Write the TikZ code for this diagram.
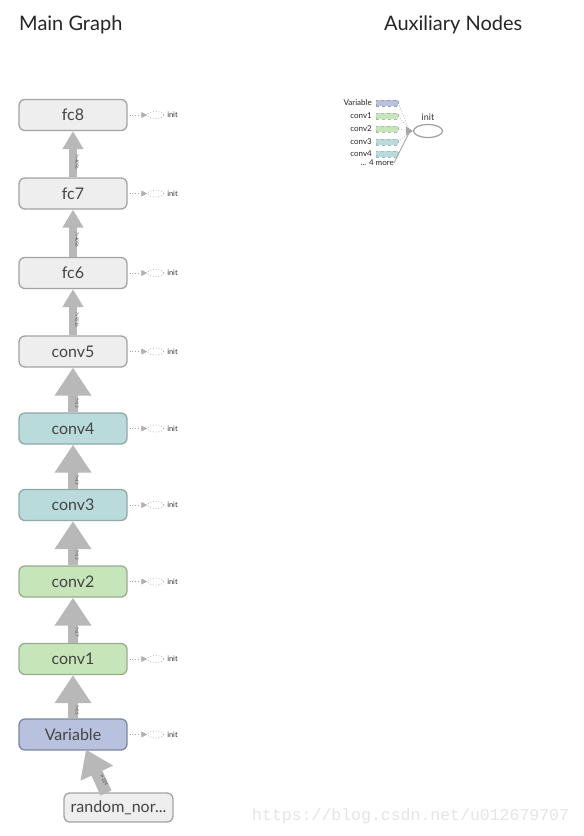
\documentclass[tikz,border=0pt]{standalone}
\usepackage{fontspec}
\setmainfont{Lato}
\newfontfamily\wmfont{Liberation Mono}
\usetikzlibrary{arrows.meta,shapes.geometric,calc}
\definecolor{nodegray}{HTML}{EEEEEE}
\definecolor{bordgray}{HTML}{A3A3A3}
\definecolor{tealfill}{HTML}{BADBDB}
\definecolor{tealbord}{HTML}{8FA8A8}
\definecolor{greenfill}{HTML}{C6E5B9}
\definecolor{greenbord}{HTML}{98AD90}
\definecolor{bluefill}{HTML}{B8C2DF}
\definecolor{bluebord}{HTML}{7E879E}
\definecolor{edgegray}{HTML}{B8B8B8}
\definecolor{txtgray}{HTML}{444444}
\begin{document}
\begin{tikzpicture}[x=1pt,y=-1pt,
  opbox/.style={draw, rounded corners=6pt, minimum width=108pt, minimum height=31pt,
    line width=1.3pt, inner sep=0pt, font=\fontsize{16}{18}\selectfont, text=txtgray},
  grayop/.style={opbox, fill=nodegray, draw=bordgray},
  tealop/.style={opbox, fill=tealfill, draw=tealbord},
  greenop/.style={opbox, fill=greenfill, draw=greenbord},
  blueop/.style={opbox, fill=bluefill, draw=bluebord},
  thinarrow/.style={draw=edgegray, line width=8pt, -{Triangle[width=20pt,length=18pt]}},
  fatarrow/.style={draw=edgegray, line width=10pt, -{Triangle[width=35pt,length=28pt]}},
  elbl/.style={font=\fontsize{4.5}{5}\selectfont, text=gray!60!black, rotate=-90, inner sep=0pt},
  initline/.style={draw=gray!70, dotted, line width=0.8pt},
  initell/.style={ellipse, draw=gray!60, dotted, line width=0.8pt, minimum width=16pt, minimum height=7pt, inner sep=0pt},
  inittxt/.style={font=\fontsize{7.5}{8}\selectfont, text=black!80, inner sep=0pt, anchor=west},
  title/.style={font=\fontsize{20}{22}\selectfont, text=black!85, anchor=west, inner sep=0pt},
  auxlbl/.style={font=\fontsize{8}{9}\selectfont, text=black!85, anchor=east, inner sep=0pt},
  auxbox/.style={draw, dashed, line width=0.5pt, minimum width=22pt, minimum height=6pt, inner sep=0pt}
]
\useasboundingbox[fill=white] (0,0) rectangle (584,836);

% titles
\node[title] (t1) at (19,25) {Main Graph};
\node[title] (t2) at (384,25) {Auxiliary Nodes};

% main nodes
\node[grayop] (fc8) at (73,115) {fc8};
\node[grayop] (fc7) at (73,193.5) {fc7};
\node[grayop] (fc6) at (73,273) {fc6};
\node[grayop] (conv5) at (73,351.5) {conv5};
\node[tealop] (conv4) at (73,428.5) {conv4};
\node[tealop] (conv3) at (73,505) {conv3};
\node[greenop] (conv2) at (73,581.5) {conv2};
\node[greenop] (conv1) at (73,659) {conv1};
\node[blueop] (var) at (73,734.5) {Variable};
\node[grayop, minimum width=109pt, minimum height=29pt] (rnd) at (118.5,807.5) {random\_nor...};

% edges
\draw[thinarrow] (fc7.north) -- (fc8.south);
\draw[thinarrow] (fc6.north) -- (fc7.south);
\draw[thinarrow] (conv5.north) -- (fc6.south);
\draw[fatarrow] (conv4.north) -- (conv5.south);
\draw[fatarrow] (conv3.north) -- (conv4.south);
\draw[fatarrow] (conv2.north) -- (conv3.south);
\draw[fatarrow] (conv1.north) -- (conv2.south);
\draw[fatarrow] (var.north) -- (conv1.south);
\coordinate (rndtop) at (106,793);
\coordinate (vartip) at (86,749.5);
\draw[draw=edgegray, line width=12pt, -{Triangle[width=34pt,length=26pt]}] (rndtop) -- (vartip);

% edge labels
\node[elbl] (l1) at (77,162) {?×4096};
\node[elbl] (l2) at (77,240) {?×4096};
\node[elbl] (l3) at (77,320) {?×9216};
\node[elbl] (l4) at (77,403) {?×13};
\node[elbl] (l5) at (77,480) {?×13};
\node[elbl] (l6) at (77,555) {?×13};
\node[elbl] (l7) at (77,632) {?×27};
\node[elbl] (l8) at (77,710) {?×55};
\node[font=\fontsize{4.5}{5}\selectfont, text=gray!60!black, inner sep=0pt, rotate=-64] (l9) at (104,780) {?×224};

% init connectors
\foreach \n/\i in {fc8/a,fc7/b,fc6/c,conv5/d,conv4/e,conv3/f,conv2/g,conv1/h,var/k}{
  \node[initell] (ie\i) at ($(\n.east)+(28,0)$) {};
  \node[inittxt] (it\i) at ($(ie\i.east)+(3,0)$) {init};
  \draw[initline, -{Triangle[width=6pt,length=6pt,color=gray!60,fill=gray!60,sep=0pt]}] (\n.east) ++(2,0) -- (ie\i.west);
}

% auxiliary nodes
\node[auxlbl] (avar) at (372,103) {Variable};
\node[auxlbl] (ac1) at (372,116) {conv1};
\node[auxlbl] (ac2) at (372,129) {conv2};
\node[auxlbl] (ac3) at (372,142) {conv3};
\node[auxlbl] (ac4) at (372,154) {conv4};
\node[auxlbl] (amore) at (394,163) {... 4 more};
\node[auxbox, fill=bluefill, draw=bluebord!80] (bvar) at (387,103) {};
\node[auxbox, fill=greenfill, draw=greenbord!80] (bc1) at (387,116) {};
\node[auxbox, fill=greenfill, draw=greenbord!80] (bc2) at (387,129) {};
\node[auxbox, fill=tealfill, draw=tealbord!80] (bc3) at (387,142) {};
\node[auxbox, fill=tealfill, draw=tealbord!80] (bc4) at (387,154) {};
\node[ellipse, draw=gray!75, line width=1.2pt, minimum width=29pt, minimum height=13pt, inner sep=0pt] (ainit) at (428,131) {};
\node[font=\fontsize{9}{10}\selectfont, text=black!80, inner sep=0pt] (ainitl) at (428,117) {init};
\coordinate (conv) at (410,131);
\foreach \b in {bvar,bc1,bc2,bc3,bc4}{
  \draw[draw=gray!70, dotted, line width=0.7pt] (\b.east) -- (conv);
}
\draw[draw=gray!70, line width=0.7pt] (amore.east) -- (conv);
\draw[draw=gray!70, line width=0.7pt, -{Triangle[width=9pt,length=7pt,color=gray!70,fill=gray!70]}] (conv) -- (ainit.west);

% watermark
\node[font=\wmfont\fontsize{16.5}{18}\selectfont, text=black!10, anchor=west, inner sep=0pt] (wm) at (252,816) {https://blog.csdn.net/u012679707};
\end{tikzpicture}
\end{document}
